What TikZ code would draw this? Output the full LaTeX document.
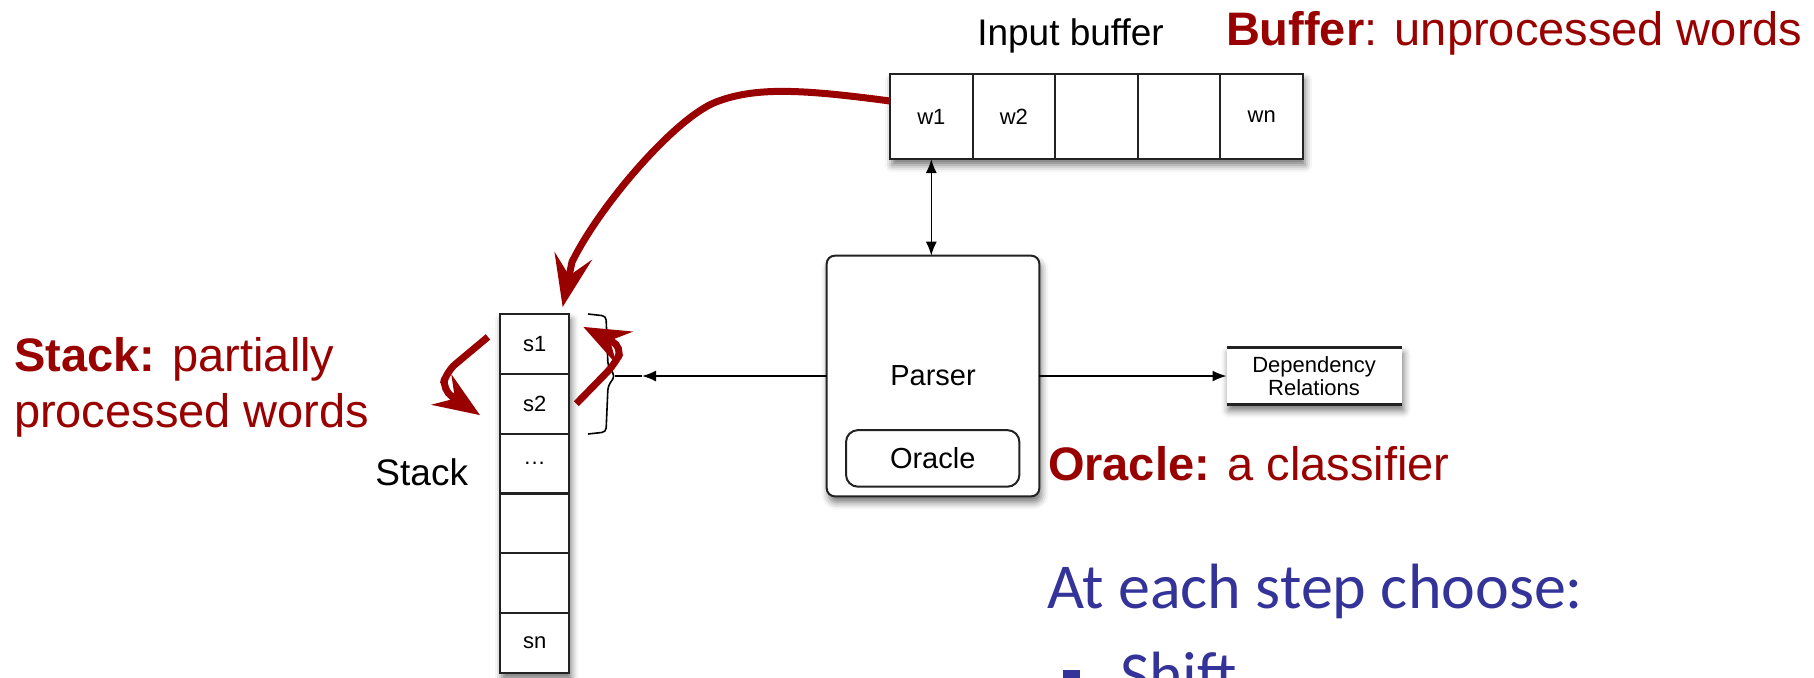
\documentclass[tikz,border=0pt]{standalone}
\usepackage{fontspec}
\setmainfont{Liberation Sans}
\newfontfamily\calfont{Carlito}
\usetikzlibrary{arrows.meta,shadows.blur}
\definecolor{annred}{RGB}{153,0,0}
\definecolor{slideblue}{RGB}{51,51,153}
\definecolor{boxline}{RGB}{34,34,34}
\newcommand\celldots{.\kern0.5pt.\kern0.5pt.}

\begin{document}
\begin{tikzpicture}[x=0.5pt,y=-0.5pt,
  every node/.style={inner sep=0pt, outer sep=0pt},
  shadowed/.style={blur shadow={shadow xshift=1pt, shadow yshift=-3pt,
      shadow blur radius=3.5pt, shadow opacity=55}},
  frame/.style={draw=boxline, line width=1pt, fill=white},
  bufcell/.style={frame, minimum width=41.3pt, minimum height=42.5pt,
      font=\fontsize{11}{13}\selectfont},
  stackcell/.style={frame, minimum width=34.65pt, minimum height=29.9pt,
      font=\fontsize{11}{13}\selectfont},
  conn/.style={draw=black, line width=0.8pt},
  blacktip/.style={-{Latex[length=7pt,width=5.5pt]}},
  redarrow/.style={draw=annred, line width=3.5pt,
      -{Stealth[length=26pt,width=19pt,inset=10pt]}},
  smallred/.style={draw=annred, line width=3.5pt, rounded corners=6pt,
      -{Stealth[length=23pt,width=18pt,inset=8pt]}},
  diagtext/.style={font=\fontsize{18.5}{22}\selectfont},
  note/.style={text=annred, font=\fontsize{23.5}{28}\selectfont},
  slidetext/.style={text=slideblue, font=\calfont\fontsize{32}{38}\selectfont}]

\useasboundingbox (0,0) rectangle (1814,677);
\clip (0,0) rectangle (1814,677);

% input buffer
\node[frame, shadowed, minimum width=206.5pt, minimum height=42.5pt] (buf) at (1096.5,116.5) {};
\foreach \i/\t in {1/w1,2/w2,3/,4/,5/wn}
  \node[bufcell] (w\i) at ({931.3+82.6*(\i-1)},116.5) {\t};
\node[diagtext, anchor=base] (buflabel) at (1070.5,45) {Input buffer};
\node[note, anchor=base west] (bufnote) at (1226,45) {\textbf{Buffer}: unprocessed words};

% stack
\node[frame, shadowed, minimum width=34.65pt, minimum height=179.5pt] (stack) at (534.65,493.5) {};
\foreach \i/\t in {1/s1,2/s2,3/\celldots,4/,5/,6/sn}
  \node[stackcell] (s\i) at (534.65,{343.9+59.83*(\i-1)}) {\t};
\node[diagtext, anchor=base east] (stacklabel) at (468,485) {Stack};
\node[note, anchor=base west] (stacknote1) at (14,371) {\textbf{Stack:} partially};
\node[note, anchor=base west] (stacknote2) at (14,427) {processed words};

% brace round the two top cells
\draw[line width=0.8pt, rounded corners=2pt]
  (588,314) -- (606,316) -- (608,366) -- (615,376) coordinate (bt)
  -- (608,386) -- (606,432) -- (588,434);

% parser with its oracle
\node[frame, shadowed, rounded corners=4pt, minimum width=106.3pt, minimum height=120.3pt,
      font=\fontsize{14.5}{17}\selectfont] (parser) at (933,376) {Parser};
\node[frame, rounded corners=6pt, minimum width=86.7pt, minimum height=28.3pt,
      font=\fontsize{14.5}{17}\selectfont] (oracle) at (932.7,458.4) {Oracle};
\node[note, anchor=base west] (oraclenote) at (1048,480) {\textbf{Oracle:} a classifier};

% output
\node[fill=white, shadowed, minimum width=87.5pt, minimum height=28.5pt, align=center,
      font=\fontsize{11}{11.5}\selectfont] (dep) at (1314,376) {Dependency\\Relations};
\draw[draw=boxline, line width=1.3pt] (dep.north west) -- (dep.north east);
\draw[draw=boxline, line width=1.3pt] (dep.south west) -- (dep.south east);

% connectors
\draw[conn, {Latex[length=7pt,width=5.5pt]}-{Latex[length=7pt,width=5.5pt]}]
  (w1.south) -- (w1.south |- parser.north);
\coordinate (stackin) at (642,376);
\draw[conn, blacktip] (parser.west) -- (stackin);
\draw[conn] (stackin) -- (bt);
\draw[conn, blacktip] (parser.east) -- (dep.west);

% shift: first word of the buffer onto the stack
\coordinate (pushstart) at ([yshift=7.75pt]w1.west);
\coordinate (pushend) at ([xshift=14pt,yshift=3.5pt]s1.north);
\draw[redarrow] (pushstart) .. controls (800,89) and (755,87) .. (716,102)
  .. controls (675,118) and (600,205) .. (572,262) -- (pushend);

% arcs between the two top cells
\coordinate (lstart) at ([xshift=-6pt,yshift=3.5pt]s1.west);
\coordinate (lend) at ([xshift=-10pt,yshift=-5.7pt]s2.west);
\draw[smallred] (lstart) -- (446,372) -- (442,390) -- (lend);
\coordinate (rstart) at ([xshift=3.5pt]s2.east);
\coordinate (rend) at ([xshift=7pt,yshift=8.5pt]s1.east);
\draw[smallred] (rstart) -- (615,364) -- (623,347) -- (rend);

% slide text
\node[slidetext, anchor=base west] (steps) at (1047,608) {At each step choose:};
\fill[slideblue] (1063,670) rectangle (1080,687);
\node[slidetext, anchor=base west] (shift) at (1120,696) {Shift};
\end{tikzpicture}
\end{document}
